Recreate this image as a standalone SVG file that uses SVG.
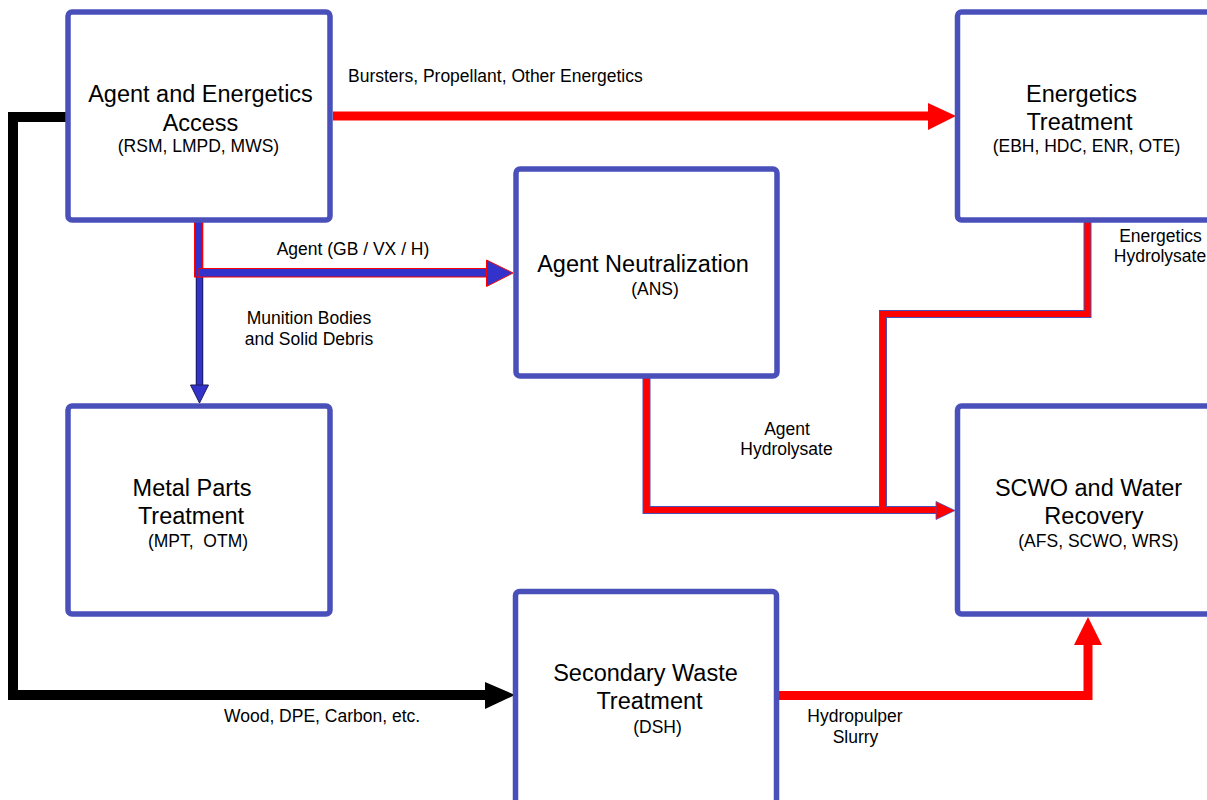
<svg xmlns="http://www.w3.org/2000/svg" width="1207" height="800" viewBox="0 0 1207 800">
<style>
.box{fill:#fff;stroke:#4a50ba;stroke-width:5.5}
.t{font-family:"Liberation Sans",Arial,sans-serif;fill:#000;text-anchor:middle}
.main{font-size:23.5px}
.sub{font-size:17.5px}
.lbl{font-family:"Liberation Sans",Arial,sans-serif;fill:#000;font-size:17.5px}
.red{fill:none;stroke:#ff0000;stroke-width:9}
.blk{fill:none;stroke:#000;stroke-width:10}
.outB{fill:none;stroke:#4a50ba;stroke-width:8}
.inR{fill:none;stroke:#ff0000;stroke-width:6}
</style>
<rect width="1207" height="800" fill="#fff"/>
<g id="connectors">
  <path class="red" d="M333,116 H929"/>
  <polygon points="928,103 956,116 928,130" fill="#ff0000"/>
  <path class="blk" d="M66,117 H13 V695 H487" stroke-linejoin="miter"/>
  <polygon points="485,682 515,695 485,709" fill="#000"/>
  <path d="M199.5,222 V386" stroke="#1a1a55" stroke-width="7.5" fill="none"/>
  <path d="M199.5,222 V386" stroke="#3333cc" stroke-width="5.5" fill="none"/>
  <polygon points="190.5,385 208.5,385 199.5,403" fill="#3333cc" stroke="#1a1a55" stroke-width="1"/>
  <rect x="194.5" y="221" width="8" height="56" fill="#3333cc" stroke="#ff0000" stroke-width="1"/>
  <rect x="199" y="268.5" width="288" height="8.5" fill="#3333cc" stroke="#ff0000" stroke-width="1"/>
  <polygon points="486.5,260 513,273 486.5,286.5" fill="#3333cc" stroke="#ff0000" stroke-width="1"/>
  <path class="outB" d="M646.5,377 V510 H938"/>
  <path class="inR" d="M646.5,377 V510 H938"/>
  <path class="outB" d="M1087.5,222 V314 H883 V510"/>
  <path class="inR" d="M1087.5,222 V314 H883 V510"/>
  <path d="M884,510 H938" stroke="#ff0000" stroke-width="6" fill="none"/>
  <polygon points="936,501.5 955,510.5 936,519.5" fill="#ff0000" stroke="#4a50ba" stroke-width="0.8"/>
  <path class="red" d="M779,695.5 H1088 V644" stroke-linejoin="miter"/>
  <polygon points="1074,645 1102,645 1088,617" fill="#ff0000"/>
</g>
<g id="node-access">
  <rect class="box" x="68" y="12" width="262" height="208" rx="4"/>
  <text class="t main" x="200.5" y="101.5">Agent and Energetics</text>
  <text class="t main" x="200.5" y="130.5">Access</text>
  <text class="t sub" x="198.5" y="152">(RSM, LMPD, MWS)</text>
</g>
<g id="node-energetics">
  <rect class="box" x="957.5" y="12" width="270" height="208" rx="4"/>
  <text class="t main" x="1081.5" y="102">Energetics</text>
  <text class="t main" x="1079.5" y="130">Treatment</text>
  <text class="t sub" x="1086.5" y="152">(EBH, HDC, ENR, OTE)</text>
</g>
<g id="node-neutralization">
  <rect class="box" x="516" y="169" width="261" height="207" rx="4"/>
  <text class="t main" x="643" y="272">Agent Neutralization</text>
  <text class="t sub" x="655" y="295">(ANS)</text>
</g>
<g id="node-metal">
  <rect class="box" x="68" y="406" width="262" height="208" rx="4"/>
  <text class="t main" x="192" y="496">Metal Parts</text>
  <text class="t main" x="191" y="524">Treatment</text>
  <text class="t sub" x="198" y="547" xml:space="preserve">(MPT,  OTM)</text>
</g>
<g id="node-scwo">
  <rect class="box" x="957.5" y="406" width="270" height="208" rx="4"/>
  <text class="t main" x="1088.5" y="495.5">SCWO and Water</text>
  <text class="t main" x="1094" y="523.5">Recovery</text>
  <text class="t sub" x="1098.5" y="547">(AFS, SCWO, WRS)</text>
</g>
<g id="node-secondary">
  <rect class="box" x="515.5" y="591.5" width="261" height="230" rx="4"/>
  <text class="t main" x="645.5" y="681">Secondary Waste</text>
  <text class="t main" x="649.5" y="709">Treatment</text>
  <text class="t sub" x="657.5" y="733">(DSH)</text>
</g>
<g id="labels">
  <text class="lbl" x="348" y="82">Bursters, Propellant, Other Energetics</text>
  <text class="lbl" x="353" y="255" text-anchor="middle">Agent (GB / VX / H)</text>
  <text class="lbl" x="309" y="324" text-anchor="middle">Munition Bodies</text>
  <text class="lbl" x="309" y="345" text-anchor="middle">and Solid Debris</text>
  <text class="lbl" x="787" y="435" text-anchor="middle">Agent</text>
  <text class="lbl" x="786.5" y="455" text-anchor="middle">Hydrolysate</text>
  <text class="lbl" x="1160.5" y="242" text-anchor="middle">Energetics</text>
  <text class="lbl" x="1160" y="262" text-anchor="middle">Hydrolysate</text>
  <text class="lbl" x="224" y="722">Wood, DPE, Carbon, etc.</text>
  <text class="lbl" x="855" y="722" text-anchor="middle">Hydropulper</text>
  <text class="lbl" x="855.5" y="743" text-anchor="middle">Slurry</text>
</g>
</svg>
